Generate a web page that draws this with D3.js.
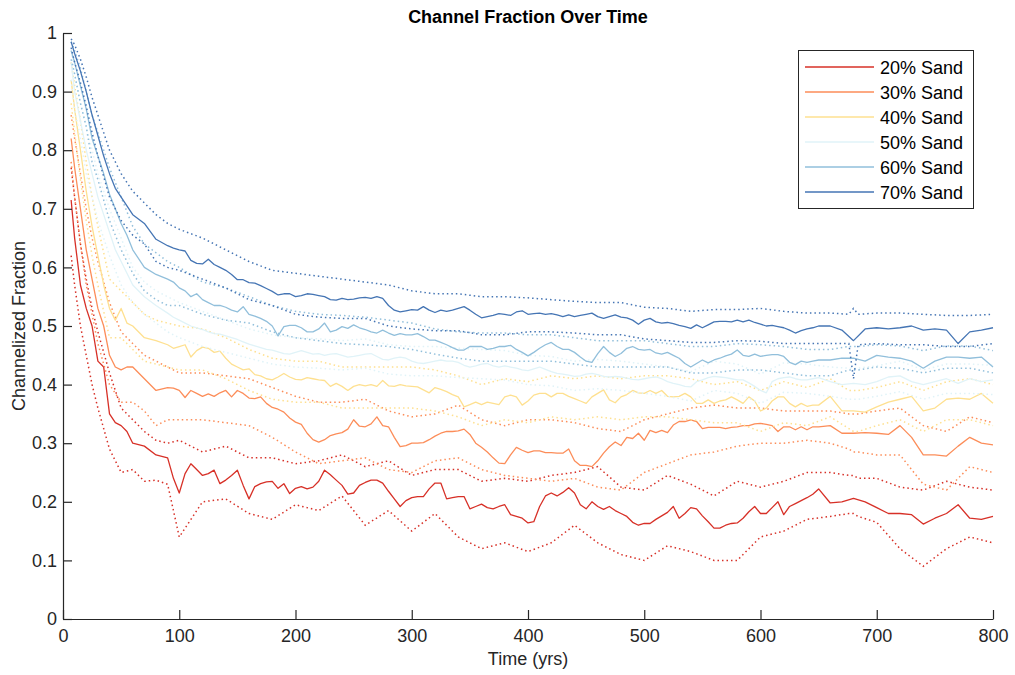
<!DOCTYPE html>
<html>
<head>
<meta charset="utf-8">
<script src="https://cdn.jsdelivr.net/npm/d3@7"></script>
<style>
  html, body { margin: 0; padding: 0; background: #fff; }
  svg { display: block; font-family: "Liberation Sans", Arial, Helvetica, sans-serif; }
</style>
</head>
<body>
<svg id="chart" width="1015" height="675"></svg>
<script>
// Sampling years for the ensemble-mean curves
const years = [7, 10, 15, 20, 25, 30, 35, 40, 45, 50, 55, 60, 70, 80, 90,
  95, 100, 105, 110, 115, 120, 125, 130, 135, 140, 145, 150, 155, 160, 165, 170, 175, 180, 185, 190,
  195, 200, 205, 210, 215, 220, 225, 230, 235, 240, 245, 250, 255, 260, 265, 270, 275, 280, 285, 290,
  295, 300, 305, 310, 315, 320, 325, 330, 335, 340, 345, 350, 355, 360, 365, 370, 375,
  380, 385, 390, 395, 400, 405, 410, 415, 420, 425, 430, 435, 440, 445, 450, 455, 460, 465, 470, 475,
  480, 485, 490, 495, 500, 505, 510, 515, 520, 525, 530, 535, 540, 545, 550, 555, 560, 565, 570, 575,
  580, 585, 590, 595, 600, 605, 610, 615, 620, 625, 630, 635, 640, 645, 650,
  660, 670, 680, 690, 700, 710, 720, 730, 740, 750, 760, 770, 780, 790, 800];

// Mean channelized fraction per sand content
const mean20 = [0.715, 0.65, 0.57, 0.53, 0.50, 0.44, 0.43, 0.35, 0.335, 0.33, 0.32, 0.30, 0.295, 0.28, 0.275,
  0.24, 0.215, 0.248, 0.265, 0.255, 0.245, 0.248, 0.254, 0.231, 0.237, 0.245, 0.254, 0.228, 0.205, 0.226, 0.231, 0.234, 0.235, 0.223, 0.231,
  0.214, 0.223, 0.226, 0.222, 0.225, 0.235, 0.254, 0.246, 0.237, 0.228, 0.213, 0.215, 0.228, 0.233, 0.237, 0.237, 0.232, 0.218, 0.205, 0.192,
  0.202, 0.207, 0.209, 0.209, 0.222, 0.232, 0.232, 0.205, 0.207, 0.209, 0.209, 0.188, 0.192, 0.196, 0.19, 0.188, 0.192,
  0.195, 0.178, 0.175, 0.172, 0.164, 0.166, 0.192, 0.21, 0.215, 0.21, 0.216, 0.224, 0.215, 0.195, 0.188, 0.20, 0.192, 0.187, 0.192, 0.185,
  0.18, 0.175, 0.165, 0.16, 0.163, 0.163, 0.17, 0.176, 0.182, 0.192, 0.172, 0.18, 0.19, 0.188, 0.176, 0.166, 0.155, 0.155, 0.16, 0.163,
  0.164, 0.172, 0.183, 0.192, 0.18, 0.18, 0.19, 0.20, 0.178, 0.192, 0.197, 0.202, 0.207, 0.213, 0.222,
  0.198, 0.20, 0.206, 0.20, 0.19, 0.18, 0.18, 0.178, 0.162, 0.172, 0.18, 0.195, 0.172, 0.17, 0.175];
const mean30 = [0.82, 0.77, 0.70, 0.63, 0.58, 0.53, 0.50, 0.45, 0.43, 0.425, 0.43, 0.43, 0.41, 0.39, 0.395,
  0.394, 0.39, 0.378, 0.39, 0.385, 0.38, 0.384, 0.38, 0.386, 0.39, 0.379, 0.39, 0.385, 0.377, 0.376, 0.379, 0.368, 0.361, 0.358, 0.353,
  0.343, 0.336, 0.332, 0.317, 0.306, 0.302, 0.306, 0.313, 0.316, 0.318, 0.324, 0.34, 0.329, 0.328, 0.333, 0.345, 0.33, 0.328, 0.31, 0.294,
  0.296, 0.30, 0.30, 0.301, 0.306, 0.312, 0.317, 0.32, 0.32, 0.321, 0.324, 0.315, 0.30, 0.293, 0.285, 0.275, 0.266,
  0.265, 0.28, 0.293, 0.288, 0.284, 0.287, 0.287, 0.284, 0.284, 0.283, 0.283, 0.29, 0.27, 0.262, 0.262, 0.26, 0.27, 0.283, 0.294, 0.302,
  0.296, 0.31, 0.308, 0.317, 0.305, 0.322, 0.318, 0.322, 0.318, 0.331, 0.337, 0.337, 0.34, 0.337, 0.325, 0.327, 0.327, 0.327, 0.325, 0.327,
  0.328, 0.33, 0.33, 0.333, 0.334, 0.332, 0.33, 0.32, 0.328, 0.328, 0.323, 0.328, 0.323, 0.328, 0.328,
  0.33, 0.317, 0.317, 0.318, 0.317, 0.315, 0.33, 0.31, 0.28, 0.28, 0.278, 0.295, 0.31, 0.30, 0.297];
const mean40 = [0.92, 0.87, 0.80, 0.73, 0.67, 0.62, 0.57, 0.53, 0.51, 0.53, 0.505, 0.50, 0.48, 0.475, 0.468,
  0.462, 0.465, 0.468, 0.447, 0.458, 0.464, 0.462, 0.455, 0.457, 0.445, 0.435, 0.43, 0.425, 0.427, 0.417, 0.415, 0.41, 0.408, 0.413, 0.419,
  0.413, 0.409, 0.408, 0.412, 0.41, 0.408, 0.407, 0.397, 0.402, 0.397, 0.39, 0.397, 0.40, 0.398, 0.40, 0.397, 0.407, 0.398, 0.397, 0.40,
  0.398, 0.397, 0.396, 0.391, 0.386, 0.395, 0.392, 0.388, 0.383, 0.379, 0.362, 0.366, 0.37, 0.366, 0.37, 0.368, 0.366,
  0.379, 0.382, 0.379, 0.365, 0.372, 0.382, 0.385, 0.385, 0.379, 0.385, 0.385, 0.38, 0.376, 0.372, 0.368, 0.379, 0.385, 0.391, 0.374, 0.369,
  0.379, 0.383, 0.39, 0.386, 0.385, 0.39, 0.385, 0.39, 0.38, 0.379, 0.38, 0.385, 0.379, 0.368, 0.368, 0.374, 0.368, 0.372, 0.374, 0.379,
  0.374, 0.368, 0.379, 0.372, 0.355, 0.36, 0.372, 0.379, 0.379, 0.368, 0.362, 0.368, 0.363, 0.365, 0.365,
  0.38, 0.355, 0.355, 0.353, 0.362, 0.37, 0.375, 0.38, 0.355, 0.36, 0.375, 0.377, 0.375, 0.385, 0.368];
const mean50 = [0.95, 0.90, 0.85, 0.80, 0.76, 0.72, 0.69, 0.66, 0.63, 0.61, 0.59, 0.57, 0.55, 0.535, 0.522,
  0.515, 0.51, 0.505, 0.50, 0.497, 0.494, 0.49, 0.487, 0.486, 0.483, 0.48, 0.477, 0.473, 0.469, 0.466, 0.463, 0.46, 0.459, 0.456, 0.453,
  0.452, 0.455, 0.458, 0.455, 0.452, 0.453, 0.45, 0.452, 0.453, 0.45, 0.447, 0.448, 0.45, 0.452, 0.453, 0.448, 0.443, 0.442, 0.445, 0.447,
  0.445, 0.44, 0.437, 0.436, 0.438, 0.44, 0.442, 0.44, 0.44, 0.438, 0.433, 0.43, 0.432, 0.435, 0.436, 0.432, 0.43,
  0.432, 0.43, 0.428, 0.425, 0.424, 0.427, 0.43, 0.426, 0.422, 0.419, 0.418, 0.416, 0.414, 0.415, 0.418, 0.419, 0.417, 0.414, 0.413, 0.414,
  0.413, 0.411, 0.409, 0.408, 0.41, 0.412, 0.413, 0.41, 0.405, 0.402, 0.40, 0.397, 0.396, 0.405, 0.408, 0.412, 0.414, 0.413, 0.412, 0.41,
  0.408, 0.408, 0.403, 0.397, 0.39, 0.386, 0.405, 0.41, 0.412, 0.413, 0.41, 0.408, 0.408, 0.41, 0.412,
  0.405, 0.40, 0.402, 0.40, 0.405, 0.413, 0.415, 0.405, 0.40, 0.405, 0.41, 0.402, 0.41, 0.405, 0.408];
const mean60 = [0.97, 0.95, 0.91, 0.87, 0.82, 0.79, 0.76, 0.725, 0.70, 0.675, 0.655, 0.63, 0.60, 0.588, 0.58,
  0.575, 0.565, 0.56, 0.55, 0.555, 0.545, 0.54, 0.535, 0.535, 0.532, 0.527, 0.524, 0.533, 0.52, 0.517, 0.513, 0.508, 0.50, 0.483, 0.499,
  0.501, 0.501, 0.497, 0.49, 0.49, 0.495, 0.505, 0.49, 0.493, 0.499, 0.496, 0.502, 0.497, 0.494, 0.49, 0.488, 0.493, 0.488, 0.484, 0.487,
  0.485, 0.485, 0.487, 0.482, 0.476, 0.476, 0.472, 0.468, 0.463, 0.459, 0.459, 0.465, 0.465, 0.465, 0.46, 0.462, 0.465,
  0.465, 0.467, 0.46, 0.455, 0.449, 0.455, 0.462, 0.468, 0.472, 0.465, 0.46, 0.46, 0.455, 0.447, 0.44, 0.438, 0.453, 0.465, 0.455, 0.448,
  0.453, 0.462, 0.465, 0.46, 0.459, 0.46, 0.454, 0.452, 0.455, 0.45, 0.445, 0.436, 0.43, 0.436, 0.442, 0.437, 0.442, 0.445, 0.449, 0.452,
  0.459, 0.45, 0.448, 0.452, 0.448, 0.45, 0.451, 0.451, 0.448, 0.438, 0.434, 0.44, 0.438, 0.44, 0.442,
  0.442, 0.445, 0.445, 0.44, 0.45, 0.447, 0.445, 0.44, 0.428, 0.44, 0.447, 0.447, 0.445, 0.447, 0.43];
const mean70 = [0.985, 0.965, 0.935, 0.90, 0.86, 0.825, 0.79, 0.76, 0.735, 0.72, 0.705, 0.69, 0.675, 0.648, 0.637,
  0.633, 0.63, 0.628, 0.612, 0.607, 0.606, 0.614, 0.605, 0.60, 0.595, 0.588, 0.579, 0.579, 0.574, 0.573, 0.569, 0.564, 0.559, 0.553, 0.555,
  0.555, 0.55, 0.552, 0.555, 0.554, 0.552, 0.55, 0.545, 0.544, 0.547, 0.545, 0.546, 0.548, 0.549, 0.547, 0.55, 0.547, 0.535, 0.527, 0.524,
  0.526, 0.528, 0.527, 0.533, 0.527, 0.523, 0.527, 0.525, 0.527, 0.53, 0.533, 0.527, 0.52, 0.514, 0.516, 0.518, 0.521,
  0.52, 0.518, 0.524, 0.526, 0.52, 0.521, 0.522, 0.52, 0.521, 0.519, 0.516, 0.519, 0.516, 0.518, 0.52, 0.522, 0.516, 0.513, 0.516, 0.519,
  0.515, 0.514, 0.51, 0.503, 0.51, 0.513, 0.507, 0.505, 0.506, 0.504, 0.501, 0.499, 0.496, 0.502, 0.497, 0.502, 0.507, 0.508, 0.508, 0.507,
  0.51, 0.507, 0.51, 0.506, 0.503, 0.50, 0.501, 0.499, 0.497, 0.493, 0.488, 0.492, 0.495, 0.497, 0.50,
  0.50, 0.493, 0.475, 0.495, 0.497, 0.495, 0.497, 0.50, 0.493, 0.495, 0.493, 0.47, 0.49, 0.493, 0.497];

// Sampling years for the spread envelopes (dotted)
const boundYears = [7, 10, 15, 20, 25, 30, 40, 50, 60, 70, 80, 90, 100,
  120, 140, 160, 180, 200, 220, 240, 260, 280, 300, 320, 340, 360, 380, 400,
  420, 440, 460, 480, 500, 520, 540, 560, 580, 600, 620, 640, 660,
  676, 680, 684, 700, 720, 740, 760, 780, 800];

const upper20 = [0.77, 0.72, 0.64, 0.58, 0.53, 0.49, 0.42, 0.36, 0.34, 0.32, 0.305, 0.30, 0.305,
  0.285, 0.295, 0.275, 0.275, 0.265, 0.27, 0.28, 0.26, 0.27, 0.245, 0.255, 0.255, 0.235, 0.24, 0.235,
  0.245, 0.25, 0.26, 0.225, 0.22, 0.245, 0.23, 0.21, 0.235, 0.225, 0.235, 0.25, 0.25,
  0.245, 0.245, 0.24, 0.24, 0.225, 0.22, 0.235, 0.225, 0.22];
const lower20 = [0.62, 0.57, 0.50, 0.45, 0.40, 0.36, 0.29, 0.25, 0.255, 0.235, 0.237, 0.23, 0.14,
  0.20, 0.205, 0.18, 0.17, 0.195, 0.185, 0.21, 0.16, 0.185, 0.15, 0.18, 0.14, 0.12, 0.13, 0.115,
  0.13, 0.16, 0.13, 0.11, 0.10, 0.125, 0.115, 0.10, 0.10, 0.14, 0.15, 0.17, 0.175,
  0.18, 0.18, 0.175, 0.165, 0.12, 0.09, 0.12, 0.14, 0.13];
const upper30 = [0.86, 0.82, 0.76, 0.70, 0.65, 0.61, 0.54, 0.49, 0.47, 0.45, 0.44, 0.43, 0.42,
  0.42, 0.415, 0.41, 0.395, 0.38, 0.37, 0.37, 0.375, 0.355, 0.345, 0.35, 0.365, 0.34, 0.33, 0.34,
  0.34, 0.335, 0.325, 0.32, 0.34, 0.35, 0.36, 0.365, 0.36, 0.36, 0.355, 0.355, 0.355,
  0.35, 0.35, 0.35, 0.355, 0.36, 0.33, 0.32, 0.345, 0.335];
const lower30 = [0.78, 0.72, 0.64, 0.57, 0.52, 0.47, 0.40, 0.37, 0.37, 0.355, 0.33, 0.34, 0.34,
  0.34, 0.335, 0.33, 0.31, 0.285, 0.265, 0.27, 0.275, 0.255, 0.25, 0.27, 0.275, 0.255, 0.245, 0.24,
  0.235, 0.24, 0.225, 0.22, 0.25, 0.265, 0.28, 0.285, 0.295, 0.30, 0.30, 0.305, 0.30,
  0.29, 0.285, 0.285, 0.28, 0.28, 0.23, 0.22, 0.26, 0.25];
const upper40 = [0.95, 0.91, 0.85, 0.78, 0.72, 0.67, 0.58, 0.56, 0.54, 0.52, 0.51, 0.505, 0.50,
  0.495, 0.48, 0.46, 0.445, 0.44, 0.44, 0.43, 0.43, 0.43, 0.43, 0.425, 0.415, 0.40, 0.41, 0.405,
  0.415, 0.41, 0.415, 0.41, 0.415, 0.415, 0.41, 0.40, 0.405, 0.39, 0.405, 0.395, 0.41,
  0.39, 0.39, 0.39, 0.395, 0.405, 0.39, 0.405, 0.41, 0.40];
const lower40 = [0.88, 0.83, 0.75, 0.68, 0.62, 0.57, 0.48, 0.48, 0.46, 0.44, 0.435, 0.43, 0.425,
  0.425, 0.41, 0.39, 0.375, 0.37, 0.37, 0.36, 0.36, 0.36, 0.36, 0.355, 0.345, 0.33, 0.34, 0.335,
  0.345, 0.34, 0.345, 0.34, 0.345, 0.345, 0.34, 0.335, 0.335, 0.32, 0.335, 0.33, 0.345,
  0.325, 0.32, 0.32, 0.33, 0.34, 0.32, 0.34, 0.34, 0.33];
const upper50 = [0.97, 0.93, 0.88, 0.84, 0.80, 0.76, 0.70, 0.65, 0.60, 0.575, 0.56, 0.55, 0.54,
  0.525, 0.51, 0.495, 0.485, 0.48, 0.478, 0.475, 0.478, 0.468, 0.465, 0.465, 0.462, 0.46, 0.458, 0.45,
  0.448, 0.44, 0.443, 0.44, 0.435, 0.43, 0.422, 0.44, 0.435, 0.418, 0.437, 0.435, 0.43,
  0.428, 0.428, 0.428, 0.432, 0.44, 0.425, 0.435, 0.435, 0.433];
const lower50 = [0.92, 0.87, 0.82, 0.76, 0.72, 0.68, 0.62, 0.57, 0.54, 0.52, 0.505, 0.49, 0.48,
  0.465, 0.455, 0.445, 0.435, 0.43, 0.428, 0.425, 0.428, 0.418, 0.415, 0.415, 0.412, 0.41, 0.408, 0.40,
  0.398, 0.39, 0.393, 0.39, 0.385, 0.38, 0.372, 0.39, 0.385, 0.368, 0.387, 0.385, 0.38,
  0.375, 0.375, 0.375, 0.38, 0.388, 0.375, 0.385, 0.385, 0.383];
const upper60 = [0.985, 0.97, 0.94, 0.90, 0.86, 0.83, 0.77, 0.72, 0.67, 0.64, 0.625, 0.61, 0.60,
  0.575, 0.565, 0.55, 0.535, 0.525, 0.52, 0.518, 0.515, 0.51, 0.505, 0.495, 0.49, 0.488, 0.488, 0.485,
  0.485, 0.48, 0.475, 0.475, 0.475, 0.47, 0.465, 0.465, 0.47, 0.468, 0.465, 0.46, 0.46,
  0.465, 0.465, 0.465, 0.468, 0.466, 0.458, 0.466, 0.466, 0.458];
const lower60 = [0.955, 0.93, 0.88, 0.84, 0.78, 0.75, 0.68, 0.63, 0.59, 0.56, 0.545, 0.535, 0.535,
  0.52, 0.51, 0.505, 0.49, 0.48, 0.475, 0.47, 0.468, 0.465, 0.46, 0.452, 0.445, 0.44, 0.44, 0.44,
  0.44, 0.435, 0.43, 0.43, 0.43, 0.43, 0.42, 0.42, 0.425, 0.425, 0.42, 0.415, 0.415,
  0.425, 0.425, 0.425, 0.43, 0.428, 0.42, 0.428, 0.428, 0.42];
const upper70 = [0.99, 0.98, 0.955, 0.925, 0.89, 0.86, 0.80, 0.76, 0.73, 0.71, 0.69, 0.675, 0.665,
  0.65, 0.63, 0.61, 0.595, 0.59, 0.585, 0.58, 0.575, 0.57, 0.56, 0.555, 0.555, 0.55, 0.55, 0.548,
  0.545, 0.542, 0.54, 0.54, 0.532, 0.53, 0.525, 0.528, 0.528, 0.53, 0.525, 0.522, 0.522,
  0.52, 0.53, 0.52, 0.522, 0.522, 0.52, 0.518, 0.518, 0.52];
const lower70 = [0.975, 0.95, 0.915, 0.875, 0.83, 0.79, 0.72, 0.68, 0.655, 0.64, 0.61, 0.60, 0.595,
  0.58, 0.565, 0.545, 0.535, 0.52, 0.515, 0.513, 0.513, 0.50, 0.495, 0.492, 0.492, 0.485, 0.485, 0.49,
  0.49, 0.488, 0.485, 0.485, 0.478, 0.475, 0.472, 0.472, 0.475, 0.474, 0.47, 0.47, 0.47,
  0.47, 0.41, 0.468, 0.47, 0.468, 0.468, 0.465, 0.465, 0.47];

const seriesNames = ["20% Sand", "30% Sand", "40% Sand", "50% Sand", "60% Sand", "70% Sand"];
const seriesColors = ["#d73027", "#fc8d59", "#fee090", "#e0f3f8", "#91bfdb", "#4575b4"];
const xTicks = [0, 100, 200, 300, 400, 500, 600, 700, 800];
const yTicks = [0, 0.1, 0.2, 0.3, 0.4, 0.5, 0.6, 0.7, 0.8, 0.9, 1];

const means = [mean20, mean30, mean40, mean50, mean60, mean70];
const uppers = [upper20, upper30, upper40, upper50, upper60, upper70];
const lowers = [lower20, lower30, lower40, lower50, lower60, lower70];

const svg = d3.select("#chart");
const ink = "#262626";
const font = 18;

const x = d3.scaleLinear().domain([0, 800]).range([63, 993]);
const y = d3.scaleLinear().domain([0, 1]).range([619, 33]);

const line = d3.line().x(d => x(d[0])).y(d => y(d[1]));
const pair = (xs, vs) => xs.map((t, i) => [t, vs[i]]);

// Curves: each sand content draws its mean (solid) and its envelope (dotted)
const plot = svg.append("g");
means.forEach((m, i) => {
  const c = seriesColors[i];
  plot.append("path")
    .attr("d", line(pair(years, m)))
    .attr("fill", "none").attr("stroke", c)
    .attr("stroke-width", 1.3).attr("stroke-linejoin", "round");
  [uppers[i], lowers[i]].forEach(b => {
    plot.append("path")
      .attr("d", line(pair(boundYears, b)))
      .attr("fill", "none").attr("stroke", c)
      .attr("stroke-width", 1.5)
      .attr("stroke-dasharray", "1.5 3");
  });
});

// Axes with inward ticks
const fmt = d => String(+d.toFixed(1));
const gx = svg.append("g").attr("transform", "translate(0,619)")
  .call(d3.axisBottom(x).tickValues(xTicks).tickSize(-9).tickSizeOuter(0).tickPadding(10).tickFormat(fmt));
const gy = svg.append("g").attr("transform", "translate(63,0)")
  .call(d3.axisLeft(y).tickValues(yTicks).tickSize(-9).tickSizeOuter(0).tickPadding(6).tickFormat(fmt));
[gx, gy].forEach(g => {
  g.select(".domain").attr("stroke", ink).attr("stroke-width", 1.2);
  g.selectAll(".tick line").attr("stroke", ink).attr("stroke-width", 1.2);
  g.selectAll(".tick text").attr("fill", ink).style("font-size", font + "px")
    .style("font-family", "'Liberation Sans', Arial, sans-serif");
});

// Titles
svg.append("text").attr("x", 528).attr("y", 23).attr("text-anchor", "middle")
  .attr("fill", "#000").style("font-size", "18px").style("font-weight", "bold")
  .text("Channel Fraction Over Time");
svg.append("text").attr("x", 528).attr("y", 665).attr("text-anchor", "middle")
  .attr("fill", ink).style("font-size", font + "px").text("Time (yrs)");
svg.append("text").attr("transform", "translate(25,326) rotate(-90)").attr("text-anchor", "middle")
  .attr("fill", ink).style("font-size", font + "px").text("Channelized Fraction");

// Legend
const lg = svg.append("g");
lg.append("rect").attr("x", 798.5).attr("y", 50.5).attr("width", 175).attr("height", 158)
  .attr("fill", "#fff").attr("stroke", ink).attr("stroke-width", 1);
seriesNames.forEach((name, i) => {
  const ry = 67 + i * 25;
  lg.append("line").attr("x1", 805).attr("x2", 874).attr("y1", ry).attr("y2", ry)
    .attr("stroke", seriesColors[i]).attr("stroke-width", 1.6);
  lg.append("text").attr("x", 880).attr("y", ry + 7)
    .attr("fill", "#000").style("font-size", font + "px").text(name);
});
</script>
</body>
</html>
